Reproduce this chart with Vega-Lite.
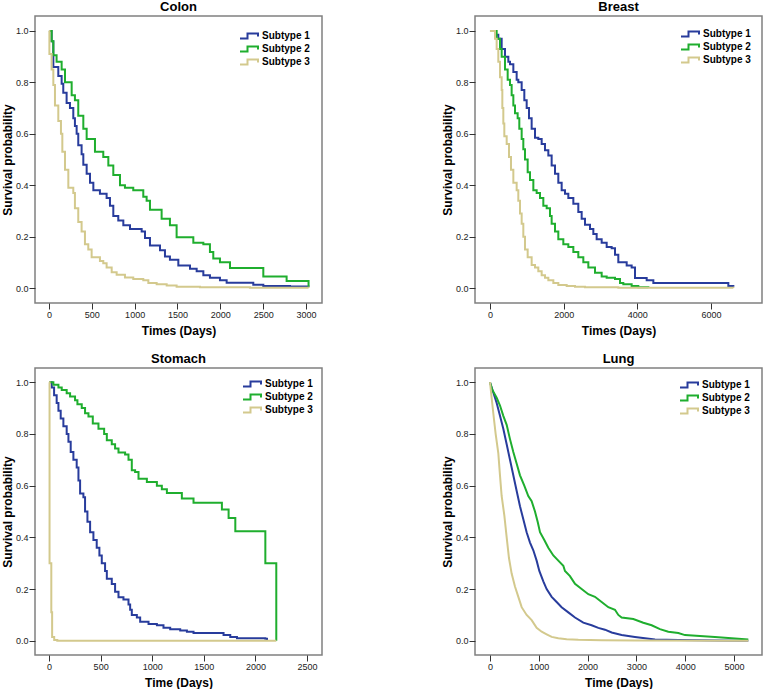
{
  "$schema": "https://vega.github.io/schema/vega-lite/v6.json",
  "background": "white",
  "padding": {"left": 0, "top": 0, "right": 0, "bottom": 0},
  "columns": 2,
  "spacing": {"row": 15, "column": 117},
  "resolve": {"legend": {"color": "independent"}},
  "datasets": {
    "colon": [
      {"subtype": "Subtype 1", "days": 0, "survival": 1}, {"subtype": "Subtype 1", "days": 31, "survival": 0.96}, {"subtype": "Subtype 1", "days": 51, "survival": 0.86}, {"subtype": "Subtype 1", "days": 109, "survival": 0.825}, {"subtype": "Subtype 1", "days": 148, "survival": 0.795}, {"subtype": "Subtype 1", "days": 167, "survival": 0.76}, {"subtype": "Subtype 1", "days": 206, "survival": 0.72}, {"subtype": "Subtype 1", "days": 245, "survival": 0.7}, {"subtype": "Subtype 1", "days": 284, "survival": 0.66}, {"subtype": "Subtype 1", "days": 303, "survival": 0.63}, {"subtype": "Subtype 1", "days": 323, "survival": 0.6}, {"subtype": "Subtype 1", "days": 342, "survival": 0.555}, {"subtype": "Subtype 1", "days": 381, "survival": 0.52}, {"subtype": "Subtype 1", "days": 401, "survival": 0.48}, {"subtype": "Subtype 1", "days": 440, "survival": 0.445}, {"subtype": "Subtype 1", "days": 479, "survival": 0.41}, {"subtype": "Subtype 1", "days": 518, "survival": 0.38}, {"subtype": "Subtype 1", "days": 595, "survival": 0.367}, {"subtype": "Subtype 1", "days": 673, "survival": 0.35}, {"subtype": "Subtype 1", "days": 712, "survival": 0.32}, {"subtype": "Subtype 1", "days": 751, "survival": 0.28}, {"subtype": "Subtype 1", "days": 809, "survival": 0.263}, {"subtype": "Subtype 1", "days": 868, "survival": 0.244}, {"subtype": "Subtype 1", "days": 946, "survival": 0.23}, {"subtype": "Subtype 1", "days": 1082, "survival": 0.22}, {"subtype": "Subtype 1", "days": 1121, "survival": 0.195}, {"subtype": "Subtype 1", "days": 1179, "survival": 0.166}, {"subtype": "Subtype 1", "days": 1296, "survival": 0.147}, {"subtype": "Subtype 1", "days": 1354, "survival": 0.123}, {"subtype": "Subtype 1", "days": 1412, "survival": 0.11}, {"subtype": "Subtype 1", "days": 1510, "survival": 0.088}, {"subtype": "Subtype 1", "days": 1646, "survival": 0.075}, {"subtype": "Subtype 1", "days": 1724, "survival": 0.065}, {"subtype": "Subtype 1", "days": 1802, "survival": 0.05}, {"subtype": "Subtype 1", "days": 1879, "survival": 0.04}, {"subtype": "Subtype 1", "days": 1996, "survival": 0.03}, {"subtype": "Subtype 1", "days": 2074, "survival": 0.021}, {"subtype": "Subtype 1", "days": 2385, "survival": 0.013}, {"subtype": "Subtype 1", "days": 2502, "survival": 0.008}, {"subtype": "Subtype 1", "days": 2813, "survival": 0.006}, {"subtype": "Subtype 1", "days": 3030, "survival": 0.005},
      {"subtype": "Subtype 2", "days": 0, "survival": 1}, {"subtype": "Subtype 2", "days": 31, "survival": 0.96}, {"subtype": "Subtype 2", "days": 51, "survival": 0.905}, {"subtype": "Subtype 2", "days": 89, "survival": 0.88}, {"subtype": "Subtype 2", "days": 148, "survival": 0.85}, {"subtype": "Subtype 2", "days": 187, "survival": 0.8}, {"subtype": "Subtype 2", "days": 265, "survival": 0.75}, {"subtype": "Subtype 2", "days": 303, "survival": 0.73}, {"subtype": "Subtype 2", "days": 342, "survival": 0.67}, {"subtype": "Subtype 2", "days": 401, "survival": 0.62}, {"subtype": "Subtype 2", "days": 440, "survival": 0.58}, {"subtype": "Subtype 2", "days": 537, "survival": 0.53}, {"subtype": "Subtype 2", "days": 634, "survival": 0.51}, {"subtype": "Subtype 2", "days": 693, "survival": 0.477}, {"subtype": "Subtype 2", "days": 751, "survival": 0.44}, {"subtype": "Subtype 2", "days": 829, "survival": 0.4}, {"subtype": "Subtype 2", "days": 887, "survival": 0.39}, {"subtype": "Subtype 2", "days": 984, "survival": 0.38}, {"subtype": "Subtype 2", "days": 1101, "survival": 0.355}, {"subtype": "Subtype 2", "days": 1140, "survival": 0.34}, {"subtype": "Subtype 2", "days": 1179, "survival": 0.305}, {"subtype": "Subtype 2", "days": 1315, "survival": 0.27}, {"subtype": "Subtype 2", "days": 1412, "survival": 0.244}, {"subtype": "Subtype 2", "days": 1490, "survival": 0.198}, {"subtype": "Subtype 2", "days": 1685, "survival": 0.176}, {"subtype": "Subtype 2", "days": 1802, "survival": 0.17}, {"subtype": "Subtype 2", "days": 1879, "survival": 0.14}, {"subtype": "Subtype 2", "days": 1918, "survival": 0.115}, {"subtype": "Subtype 2", "days": 1996, "survival": 0.1}, {"subtype": "Subtype 2", "days": 2113, "survival": 0.078}, {"subtype": "Subtype 2", "days": 2502, "survival": 0.045}, {"subtype": "Subtype 2", "days": 2774, "survival": 0.028}, {"subtype": "Subtype 2", "days": 3030, "survival": 0.005},
      {"subtype": "Subtype 3", "days": 0, "survival": 1}, {"subtype": "Subtype 3", "days": 5, "survival": 0.91}, {"subtype": "Subtype 3", "days": 31, "survival": 0.85}, {"subtype": "Subtype 3", "days": 51, "survival": 0.79}, {"subtype": "Subtype 3", "days": 70, "survival": 0.71}, {"subtype": "Subtype 3", "days": 109, "survival": 0.65}, {"subtype": "Subtype 3", "days": 140, "survival": 0.6}, {"subtype": "Subtype 3", "days": 156, "survival": 0.53}, {"subtype": "Subtype 3", "days": 187, "survival": 0.46}, {"subtype": "Subtype 3", "days": 226, "survival": 0.39}, {"subtype": "Subtype 3", "days": 284, "survival": 0.37}, {"subtype": "Subtype 3", "days": 303, "survival": 0.31}, {"subtype": "Subtype 3", "days": 342, "survival": 0.257}, {"subtype": "Subtype 3", "days": 381, "survival": 0.22}, {"subtype": "Subtype 3", "days": 420, "survival": 0.17}, {"subtype": "Subtype 3", "days": 459, "survival": 0.15}, {"subtype": "Subtype 3", "days": 498, "survival": 0.12}, {"subtype": "Subtype 3", "days": 595, "survival": 0.105}, {"subtype": "Subtype 3", "days": 634, "survival": 0.097}, {"subtype": "Subtype 3", "days": 673, "survival": 0.08}, {"subtype": "Subtype 3", "days": 732, "survival": 0.062}, {"subtype": "Subtype 3", "days": 790, "survival": 0.052}, {"subtype": "Subtype 3", "days": 887, "survival": 0.041}, {"subtype": "Subtype 3", "days": 984, "survival": 0.035}, {"subtype": "Subtype 3", "days": 1101, "survival": 0.03}, {"subtype": "Subtype 3", "days": 1160, "survival": 0.02}, {"subtype": "Subtype 3", "days": 1257, "survival": 0.015}, {"subtype": "Subtype 3", "days": 1374, "survival": 0.01}, {"subtype": "Subtype 3", "days": 1490, "survival": 0.005}, {"subtype": "Subtype 3", "days": 1763, "survival": 0.003}, {"subtype": "Subtype 3", "days": 2346, "survival": 0.001}, {"subtype": "Subtype 3", "days": 3030, "survival": 0}
    ],
    "breast": [
      {"subtype": "Subtype 1", "days": 0, "survival": 1}, {"subtype": "Subtype 1", "days": 150, "survival": 0.985}, {"subtype": "Subtype 1", "days": 226, "survival": 0.97}, {"subtype": "Subtype 1", "days": 317, "survival": 0.93}, {"subtype": "Subtype 1", "days": 407, "survival": 0.9}, {"subtype": "Subtype 1", "days": 498, "survival": 0.88}, {"subtype": "Subtype 1", "days": 543, "survival": 0.87}, {"subtype": "Subtype 1", "days": 634, "survival": 0.84}, {"subtype": "Subtype 1", "days": 724, "survival": 0.81}, {"subtype": "Subtype 1", "days": 769, "survival": 0.8}, {"subtype": "Subtype 1", "days": 860, "survival": 0.77}, {"subtype": "Subtype 1", "days": 932, "survival": 0.73}, {"subtype": "Subtype 1", "days": 996, "survival": 0.7}, {"subtype": "Subtype 1", "days": 1059, "survival": 0.66}, {"subtype": "Subtype 1", "days": 1131, "survival": 0.62}, {"subtype": "Subtype 1", "days": 1222, "survival": 0.585}, {"subtype": "Subtype 1", "days": 1312, "survival": 0.58}, {"subtype": "Subtype 1", "days": 1403, "survival": 0.56}, {"subtype": "Subtype 1", "days": 1493, "survival": 0.536}, {"subtype": "Subtype 1", "days": 1584, "survival": 0.516}, {"subtype": "Subtype 1", "days": 1674, "survival": 0.477}, {"subtype": "Subtype 1", "days": 1765, "survival": 0.445}, {"subtype": "Subtype 1", "days": 1855, "survival": 0.41}, {"subtype": "Subtype 1", "days": 1946, "survival": 0.38}, {"subtype": "Subtype 1", "days": 2036, "survival": 0.367}, {"subtype": "Subtype 1", "days": 2127, "survival": 0.35}, {"subtype": "Subtype 1", "days": 2263, "survival": 0.328}, {"subtype": "Subtype 1", "days": 2398, "survival": 0.296}, {"subtype": "Subtype 1", "days": 2489, "survival": 0.27}, {"subtype": "Subtype 1", "days": 2579, "survival": 0.246}, {"subtype": "Subtype 1", "days": 2715, "survival": 0.23}, {"subtype": "Subtype 1", "days": 2806, "survival": 0.21}, {"subtype": "Subtype 1", "days": 2896, "survival": 0.19}, {"subtype": "Subtype 1", "days": 3032, "survival": 0.176}, {"subtype": "Subtype 1", "days": 3168, "survival": 0.16}, {"subtype": "Subtype 1", "days": 3303, "survival": 0.155}, {"subtype": "Subtype 1", "days": 3394, "survival": 0.13}, {"subtype": "Subtype 1", "days": 3484, "survival": 0.1}, {"subtype": "Subtype 1", "days": 3711, "survival": 0.088}, {"subtype": "Subtype 1", "days": 3846, "survival": 0.08}, {"subtype": "Subtype 1", "days": 3937, "survival": 0.039}, {"subtype": "Subtype 1", "days": 4254, "survival": 0.03}, {"subtype": "Subtype 1", "days": 4435, "survival": 0.02}, {"subtype": "Subtype 1", "days": 6471, "survival": 0.008}, {"subtype": "Subtype 1", "days": 6607, "survival": 0.005},
      {"subtype": "Subtype 2", "days": 0, "survival": 1}, {"subtype": "Subtype 2", "days": 181, "survival": 0.97}, {"subtype": "Subtype 2", "days": 272, "survival": 0.93}, {"subtype": "Subtype 2", "days": 317, "survival": 0.9}, {"subtype": "Subtype 2", "days": 407, "survival": 0.85}, {"subtype": "Subtype 2", "days": 480, "survival": 0.81}, {"subtype": "Subtype 2", "days": 543, "survival": 0.79}, {"subtype": "Subtype 2", "days": 588, "survival": 0.75}, {"subtype": "Subtype 2", "days": 634, "survival": 0.71}, {"subtype": "Subtype 2", "days": 679, "survival": 0.68}, {"subtype": "Subtype 2", "days": 751, "survival": 0.66}, {"subtype": "Subtype 2", "days": 796, "survival": 0.62}, {"subtype": "Subtype 2", "days": 860, "survival": 0.58}, {"subtype": "Subtype 2", "days": 905, "survival": 0.54}, {"subtype": "Subtype 2", "days": 950, "survival": 0.5}, {"subtype": "Subtype 2", "days": 1023, "survival": 0.45}, {"subtype": "Subtype 2", "days": 1086, "survival": 0.42}, {"subtype": "Subtype 2", "days": 1177, "survival": 0.38}, {"subtype": "Subtype 2", "days": 1267, "survival": 0.37}, {"subtype": "Subtype 2", "days": 1358, "survival": 0.35}, {"subtype": "Subtype 2", "days": 1448, "survival": 0.32}, {"subtype": "Subtype 2", "days": 1539, "survival": 0.31}, {"subtype": "Subtype 2", "days": 1629, "survival": 0.28}, {"subtype": "Subtype 2", "days": 1674, "survival": 0.25}, {"subtype": "Subtype 2", "days": 1765, "survival": 0.22}, {"subtype": "Subtype 2", "days": 1855, "survival": 0.19}, {"subtype": "Subtype 2", "days": 1991, "survival": 0.17}, {"subtype": "Subtype 2", "days": 2127, "survival": 0.16}, {"subtype": "Subtype 2", "days": 2263, "survival": 0.14}, {"subtype": "Subtype 2", "days": 2398, "survival": 0.12}, {"subtype": "Subtype 2", "days": 2534, "survival": 0.1}, {"subtype": "Subtype 2", "days": 2670, "survival": 0.08}, {"subtype": "Subtype 2", "days": 2851, "survival": 0.06}, {"subtype": "Subtype 2", "days": 3032, "survival": 0.045}, {"subtype": "Subtype 2", "days": 3168, "survival": 0.04}, {"subtype": "Subtype 2", "days": 3394, "survival": 0.035}, {"subtype": "Subtype 2", "days": 3530, "survival": 0.02}, {"subtype": "Subtype 2", "days": 3620, "survival": 0.015}, {"subtype": "Subtype 2", "days": 3846, "survival": 0.008}, {"subtype": "Subtype 2", "days": 4027, "survival": 0.003}, {"subtype": "Subtype 2", "days": 4300, "survival": 0.002},
      {"subtype": "Subtype 3", "days": 0, "survival": 1}, {"subtype": "Subtype 3", "days": 136, "survival": 0.97}, {"subtype": "Subtype 3", "days": 181, "survival": 0.93}, {"subtype": "Subtype 3", "days": 226, "survival": 0.88}, {"subtype": "Subtype 3", "days": 272, "survival": 0.82}, {"subtype": "Subtype 3", "days": 317, "survival": 0.77}, {"subtype": "Subtype 3", "days": 335, "survival": 0.7}, {"subtype": "Subtype 3", "days": 362, "survival": 0.64}, {"subtype": "Subtype 3", "days": 389, "survival": 0.59}, {"subtype": "Subtype 3", "days": 453, "survival": 0.56}, {"subtype": "Subtype 3", "days": 516, "survival": 0.51}, {"subtype": "Subtype 3", "days": 570, "survival": 0.46}, {"subtype": "Subtype 3", "days": 634, "survival": 0.41}, {"subtype": "Subtype 3", "days": 724, "survival": 0.38}, {"subtype": "Subtype 3", "days": 769, "survival": 0.34}, {"subtype": "Subtype 3", "days": 815, "survival": 0.29}, {"subtype": "Subtype 3", "days": 860, "survival": 0.25}, {"subtype": "Subtype 3", "days": 905, "survival": 0.2}, {"subtype": "Subtype 3", "days": 950, "survival": 0.15}, {"subtype": "Subtype 3", "days": 1023, "survival": 0.12}, {"subtype": "Subtype 3", "days": 1131, "survival": 0.09}, {"subtype": "Subtype 3", "days": 1222, "survival": 0.08}, {"subtype": "Subtype 3", "days": 1312, "survival": 0.065}, {"subtype": "Subtype 3", "days": 1403, "survival": 0.05}, {"subtype": "Subtype 3", "days": 1493, "survival": 0.04}, {"subtype": "Subtype 3", "days": 1584, "survival": 0.03}, {"subtype": "Subtype 3", "days": 1720, "survival": 0.02}, {"subtype": "Subtype 3", "days": 1855, "survival": 0.012}, {"subtype": "Subtype 3", "days": 2082, "survival": 0.008}, {"subtype": "Subtype 3", "days": 2308, "survival": 0.005}, {"subtype": "Subtype 3", "days": 2579, "survival": 0.003}, {"subtype": "Subtype 3", "days": 3484, "survival": 0.001}, {"subtype": "Subtype 3", "days": 6607, "survival": 0}
    ],
    "stomach": [
      {"subtype": "Subtype 1", "days": 0, "survival": 1}, {"subtype": "Subtype 1", "days": 26, "survival": 0.98}, {"subtype": "Subtype 1", "days": 49, "survival": 0.95}, {"subtype": "Subtype 1", "days": 74, "survival": 0.92}, {"subtype": "Subtype 1", "days": 91, "survival": 0.89}, {"subtype": "Subtype 1", "days": 113, "survival": 0.86}, {"subtype": "Subtype 1", "days": 139, "survival": 0.83}, {"subtype": "Subtype 1", "days": 171, "survival": 0.8}, {"subtype": "Subtype 1", "days": 188, "survival": 0.77}, {"subtype": "Subtype 1", "days": 210, "survival": 0.73}, {"subtype": "Subtype 1", "days": 236, "survival": 0.7}, {"subtype": "Subtype 1", "days": 268, "survival": 0.67}, {"subtype": "Subtype 1", "days": 285, "survival": 0.62}, {"subtype": "Subtype 1", "days": 301, "survival": 0.57}, {"subtype": "Subtype 1", "days": 333, "survival": 0.555}, {"subtype": "Subtype 1", "days": 349, "survival": 0.5}, {"subtype": "Subtype 1", "days": 372, "survival": 0.46}, {"subtype": "Subtype 1", "days": 398, "survival": 0.42}, {"subtype": "Subtype 1", "days": 430, "survival": 0.39}, {"subtype": "Subtype 1", "days": 462, "survival": 0.36}, {"subtype": "Subtype 1", "days": 488, "survival": 0.33}, {"subtype": "Subtype 1", "days": 511, "survival": 0.3}, {"subtype": "Subtype 1", "days": 543, "survival": 0.27}, {"subtype": "Subtype 1", "days": 560, "survival": 0.24}, {"subtype": "Subtype 1", "days": 608, "survival": 0.22}, {"subtype": "Subtype 1", "days": 640, "survival": 0.19}, {"subtype": "Subtype 1", "days": 673, "survival": 0.168}, {"subtype": "Subtype 1", "days": 721, "survival": 0.16}, {"subtype": "Subtype 1", "days": 770, "survival": 0.14}, {"subtype": "Subtype 1", "days": 786, "survival": 0.12}, {"subtype": "Subtype 1", "days": 802, "survival": 0.1}, {"subtype": "Subtype 1", "days": 851, "survival": 0.09}, {"subtype": "Subtype 1", "days": 883, "survival": 0.074}, {"subtype": "Subtype 1", "days": 964, "survival": 0.065}, {"subtype": "Subtype 1", "days": 1045, "survival": 0.06}, {"subtype": "Subtype 1", "days": 1109, "survival": 0.05}, {"subtype": "Subtype 1", "days": 1174, "survival": 0.045}, {"subtype": "Subtype 1", "days": 1271, "survival": 0.04}, {"subtype": "Subtype 1", "days": 1336, "survival": 0.035}, {"subtype": "Subtype 1", "days": 1400, "survival": 0.03}, {"subtype": "Subtype 1", "days": 1691, "survival": 0.022}, {"subtype": "Subtype 1", "days": 1756, "survival": 0.015}, {"subtype": "Subtype 1", "days": 1821, "survival": 0.01}, {"subtype": "Subtype 1", "days": 2096, "survival": 0.008}, {"subtype": "Subtype 1", "days": 2112, "survival": 0},
      {"subtype": "Subtype 2", "days": 0, "survival": 1}, {"subtype": "Subtype 2", "days": 42, "survival": 0.99}, {"subtype": "Subtype 2", "days": 91, "survival": 0.98}, {"subtype": "Subtype 2", "days": 123, "survival": 0.97}, {"subtype": "Subtype 2", "days": 171, "survival": 0.957}, {"subtype": "Subtype 2", "days": 204, "survival": 0.945}, {"subtype": "Subtype 2", "days": 252, "survival": 0.93}, {"subtype": "Subtype 2", "days": 275, "survival": 0.915}, {"subtype": "Subtype 2", "days": 317, "survival": 0.9}, {"subtype": "Subtype 2", "days": 349, "survival": 0.88}, {"subtype": "Subtype 2", "days": 382, "survival": 0.867}, {"subtype": "Subtype 2", "days": 424, "survival": 0.84}, {"subtype": "Subtype 2", "days": 479, "survival": 0.82}, {"subtype": "Subtype 2", "days": 534, "survival": 0.8}, {"subtype": "Subtype 2", "days": 560, "survival": 0.776}, {"subtype": "Subtype 2", "days": 608, "survival": 0.76}, {"subtype": "Subtype 2", "days": 640, "survival": 0.744}, {"subtype": "Subtype 2", "days": 673, "survival": 0.728}, {"subtype": "Subtype 2", "days": 737, "survival": 0.72}, {"subtype": "Subtype 2", "days": 770, "survival": 0.7}, {"subtype": "Subtype 2", "days": 802, "survival": 0.66}, {"subtype": "Subtype 2", "days": 834, "survival": 0.653}, {"subtype": "Subtype 2", "days": 867, "survival": 0.627}, {"subtype": "Subtype 2", "days": 948, "survival": 0.614}, {"subtype": "Subtype 2", "days": 1045, "survival": 0.6}, {"subtype": "Subtype 2", "days": 1093, "survival": 0.586}, {"subtype": "Subtype 2", "days": 1142, "survival": 0.572}, {"subtype": "Subtype 2", "days": 1287, "survival": 0.55}, {"subtype": "Subtype 2", "days": 1400, "survival": 0.534}, {"subtype": "Subtype 2", "days": 1675, "survival": 0.508}, {"subtype": "Subtype 2", "days": 1740, "survival": 0.475}, {"subtype": "Subtype 2", "days": 1805, "survival": 0.424}, {"subtype": "Subtype 2", "days": 2096, "survival": 0.3}, {"subtype": "Subtype 2", "days": 2202, "survival": 0},
      {"subtype": "Subtype 3", "days": 0, "survival": 1}, {"subtype": "Subtype 3", "days": 5, "survival": 0.3}, {"subtype": "Subtype 3", "days": 22, "survival": 0.11}, {"subtype": "Subtype 3", "days": 30, "survival": 0.015}, {"subtype": "Subtype 3", "days": 50, "survival": 0.003}, {"subtype": "Subtype 3", "days": 80, "survival": 0}, {"subtype": "Subtype 3", "days": 2202, "survival": 0}
    ],
    "lung": [
      {"subtype": "Subtype 1", "days": 0, "survival": 1}, {"subtype": "Subtype 1", "days": 68, "survival": 0.96}, {"subtype": "Subtype 1", "days": 137, "survival": 0.92}, {"subtype": "Subtype 1", "days": 205, "survival": 0.87}, {"subtype": "Subtype 1", "days": 273, "survival": 0.82}, {"subtype": "Subtype 1", "days": 342, "survival": 0.76}, {"subtype": "Subtype 1", "days": 410, "survival": 0.7}, {"subtype": "Subtype 1", "days": 478, "survival": 0.64}, {"subtype": "Subtype 1", "days": 546, "survival": 0.58}, {"subtype": "Subtype 1", "days": 615, "survival": 0.52}, {"subtype": "Subtype 1", "days": 683, "survival": 0.47}, {"subtype": "Subtype 1", "days": 751, "survival": 0.42}, {"subtype": "Subtype 1", "days": 820, "survival": 0.38}, {"subtype": "Subtype 1", "days": 888, "survival": 0.35}, {"subtype": "Subtype 1", "days": 956, "survival": 0.31}, {"subtype": "Subtype 1", "days": 1011, "survival": 0.27}, {"subtype": "Subtype 1", "days": 1093, "survival": 0.23}, {"subtype": "Subtype 1", "days": 1161, "survival": 0.2}, {"subtype": "Subtype 1", "days": 1264, "survival": 0.17}, {"subtype": "Subtype 1", "days": 1366, "survival": 0.15}, {"subtype": "Subtype 1", "days": 1468, "survival": 0.13}, {"subtype": "Subtype 1", "days": 1605, "survival": 0.11}, {"subtype": "Subtype 1", "days": 1742, "survival": 0.09}, {"subtype": "Subtype 1", "days": 1912, "survival": 0.07}, {"subtype": "Subtype 1", "days": 2083, "survival": 0.06}, {"subtype": "Subtype 1", "days": 2220, "survival": 0.05}, {"subtype": "Subtype 1", "days": 2356, "survival": 0.043}, {"subtype": "Subtype 1", "days": 2493, "survival": 0.032}, {"subtype": "Subtype 1", "days": 2698, "survival": 0.022}, {"subtype": "Subtype 1", "days": 2971, "survival": 0.015}, {"subtype": "Subtype 1", "days": 3176, "survival": 0.01}, {"subtype": "Subtype 1", "days": 3381, "survival": 0.005}, {"subtype": "Subtype 1", "days": 3859, "survival": 0.003}, {"subtype": "Subtype 1", "days": 4679, "survival": 0.001}, {"subtype": "Subtype 1", "days": 5293, "survival": 0},
      {"subtype": "Subtype 2", "days": 0, "survival": 1}, {"subtype": "Subtype 2", "days": 48, "survival": 0.97}, {"subtype": "Subtype 2", "days": 137, "survival": 0.94}, {"subtype": "Subtype 2", "days": 205, "survival": 0.91}, {"subtype": "Subtype 2", "days": 273, "survival": 0.87}, {"subtype": "Subtype 2", "days": 342, "survival": 0.835}, {"subtype": "Subtype 2", "days": 410, "survival": 0.78}, {"subtype": "Subtype 2", "days": 478, "survival": 0.73}, {"subtype": "Subtype 2", "days": 546, "survival": 0.686}, {"subtype": "Subtype 2", "days": 615, "survival": 0.64}, {"subtype": "Subtype 2", "days": 703, "survival": 0.6}, {"subtype": "Subtype 2", "days": 785, "survival": 0.56}, {"subtype": "Subtype 2", "days": 854, "survival": 0.54}, {"subtype": "Subtype 2", "days": 922, "survival": 0.5}, {"subtype": "Subtype 2", "days": 977, "survival": 0.46}, {"subtype": "Subtype 2", "days": 1025, "survival": 0.42}, {"subtype": "Subtype 2", "days": 1113, "survival": 0.39}, {"subtype": "Subtype 2", "days": 1195, "survival": 0.36}, {"subtype": "Subtype 2", "days": 1298, "survival": 0.33}, {"subtype": "Subtype 2", "days": 1400, "survival": 0.31}, {"subtype": "Subtype 2", "days": 1503, "survival": 0.29}, {"subtype": "Subtype 2", "days": 1537, "survival": 0.27}, {"subtype": "Subtype 2", "days": 1639, "survival": 0.25}, {"subtype": "Subtype 2", "days": 1742, "survival": 0.22}, {"subtype": "Subtype 2", "days": 1878, "survival": 0.2}, {"subtype": "Subtype 2", "days": 2015, "survival": 0.18}, {"subtype": "Subtype 2", "days": 2151, "survival": 0.17}, {"subtype": "Subtype 2", "days": 2288, "survival": 0.15}, {"subtype": "Subtype 2", "days": 2425, "survival": 0.13}, {"subtype": "Subtype 2", "days": 2561, "survival": 0.12}, {"subtype": "Subtype 2", "days": 2630, "survival": 0.1}, {"subtype": "Subtype 2", "days": 2698, "survival": 0.09}, {"subtype": "Subtype 2", "days": 2937, "survival": 0.084}, {"subtype": "Subtype 2", "days": 3142, "survival": 0.07}, {"subtype": "Subtype 2", "days": 3313, "survival": 0.06}, {"subtype": "Subtype 2", "days": 3483, "survival": 0.045}, {"subtype": "Subtype 2", "days": 3654, "survival": 0.035}, {"subtype": "Subtype 2", "days": 3859, "survival": 0.03}, {"subtype": "Subtype 2", "days": 3996, "survival": 0.022}, {"subtype": "Subtype 2", "days": 4610, "survival": 0.015}, {"subtype": "Subtype 2", "days": 4952, "survival": 0.01}, {"subtype": "Subtype 2", "days": 5293, "survival": 0.005},
      {"subtype": "Subtype 3", "days": 0, "survival": 1}, {"subtype": "Subtype 3", "days": 34, "survival": 0.94}, {"subtype": "Subtype 3", "days": 68, "survival": 0.88}, {"subtype": "Subtype 3", "days": 116, "survival": 0.8}, {"subtype": "Subtype 3", "days": 171, "survival": 0.725}, {"subtype": "Subtype 3", "days": 205, "survival": 0.64}, {"subtype": "Subtype 3", "days": 239, "survival": 0.56}, {"subtype": "Subtype 3", "days": 294, "survival": 0.485}, {"subtype": "Subtype 3", "days": 342, "survival": 0.4}, {"subtype": "Subtype 3", "days": 389, "survival": 0.32}, {"subtype": "Subtype 3", "days": 444, "survival": 0.26}, {"subtype": "Subtype 3", "days": 512, "survival": 0.21}, {"subtype": "Subtype 3", "days": 581, "survival": 0.17}, {"subtype": "Subtype 3", "days": 649, "survival": 0.13}, {"subtype": "Subtype 3", "days": 751, "survival": 0.1}, {"subtype": "Subtype 3", "days": 854, "survival": 0.08}, {"subtype": "Subtype 3", "days": 956, "survival": 0.05}, {"subtype": "Subtype 3", "days": 1059, "survival": 0.035}, {"subtype": "Subtype 3", "days": 1161, "survival": 0.025}, {"subtype": "Subtype 3", "days": 1264, "survival": 0.015}, {"subtype": "Subtype 3", "days": 1400, "survival": 0.01}, {"subtype": "Subtype 3", "days": 1571, "survival": 0.006}, {"subtype": "Subtype 3", "days": 1810, "survival": 0.004}, {"subtype": "Subtype 3", "days": 2288, "survival": 0.002}, {"subtype": "Subtype 3", "days": 2971, "survival": 0.001}, {"subtype": "Subtype 3", "days": 5293, "survival": 0}
    ]
  },
  "concat": [
    {
      "title": "Colon",
      "width": 287,
      "height": 287,
      "data": {"name": "colon"},
      "mark": {"type": "line", "interpolate": "step-after", "strokeWidth": 2},
      "encoding": {
        "x": {"field": "days", "type": "quantitative", "title": "Times (Days)",
              "scale": {"domain": [-163, 3187], "nice": false, "zero": false},
              "axis": {"values": [0, 500, 1000, 1500, 2000, 2500, 3000], "format": "d"}},
        "y": {"field": "survival", "type": "quantitative", "title": "Survival probability",
              "scale": {"domain": [-0.058, 1.058], "nice": false, "zero": false},
              "axis": {"values": [0, 0.2, 0.4, 0.6, 0.8, 1], "format": ".1f"}},
        "color": {"field": "subtype", "type": "nominal",
                  "scale": {"domain": ["Subtype 1", "Subtype 2", "Subtype 3"], "range": ["#283c9c", "#1fae2e", "#d3c98d"]},
                  "legend": {"title": null, "orient": "none", "legendX": 212, "legendY": 14}}
      }
    },
    {
      "title": "Breast",
      "width": 287,
      "height": 287,
      "data": {"name": "breast"},
      "mark": {"type": "line", "interpolate": "step-after", "strokeWidth": 2},
      "encoding": {
        "x": {"field": "days", "type": "quantitative", "title": "Times (Days)",
              "scale": {"domain": [-407, 7385], "nice": false, "zero": false},
              "axis": {"values": [0, 2000, 4000, 6000], "format": "d"}},
        "y": {"field": "survival", "type": "quantitative", "title": "Survival probability",
              "scale": {"domain": [-0.058, 1.058], "nice": false, "zero": false},
              "axis": {"values": [0, 0.2, 0.4, 0.6, 0.8, 1], "format": ".1f"}},
        "color": {"field": "subtype", "type": "nominal",
                  "scale": {"domain": ["Subtype 1", "Subtype 2", "Subtype 3"], "range": ["#283c9c", "#1fae2e", "#d3c98d"]},
                  "legend": {"title": null, "orient": "none", "legendX": 213, "legendY": 12}}
      }
    },
    {
      "title": "Stomach",
      "width": 287,
      "height": 287,
      "data": {"name": "stomach"},
      "mark": {"type": "line", "interpolate": "step-after", "strokeWidth": 2},
      "encoding": {
        "x": {"field": "days", "type": "quantitative", "title": "Time (Days)",
              "scale": {"domain": [-136, 2645], "nice": false, "zero": false},
              "axis": {"values": [0, 500, 1000, 1500, 2000, 2500], "format": "d"}},
        "y": {"field": "survival", "type": "quantitative", "title": "Survival probability",
              "scale": {"domain": [-0.055, 1.055], "nice": false, "zero": false},
              "axis": {"values": [0, 0.2, 0.4, 0.6, 0.8, 1], "format": ".1f"}},
        "color": {"field": "subtype", "type": "nominal",
                  "scale": {"domain": ["Subtype 1", "Subtype 2", "Subtype 3"], "range": ["#283c9c", "#1fae2e", "#d3c98d"]},
                  "legend": {"title": null, "orient": "none", "legendX": 215, "legendY": 10}}
      }
    },
    {
      "title": "Lung",
      "width": 287,
      "height": 287,
      "data": {"name": "lung"},
      "mark": {"type": "line", "interpolate": "linear", "strokeWidth": 2},
      "encoding": {
        "x": {"field": "days", "type": "quantitative", "title": "Time (Days)",
              "scale": {"domain": [-307, 5574], "nice": false, "zero": false},
              "axis": {"values": [0, 1000, 2000, 3000, 4000, 5000], "format": "d"}},
        "y": {"field": "survival", "type": "quantitative", "title": "Survival probability",
              "scale": {"domain": [-0.055, 1.055], "nice": false, "zero": false},
              "axis": {"values": [0, 0.2, 0.4, 0.6, 0.8, 1], "format": ".1f"}},
        "color": {"field": "subtype", "type": "nominal",
                  "scale": {"domain": ["Subtype 1", "Subtype 2", "Subtype 3"], "range": ["#283c9c", "#1fae2e", "#d3c98d"]},
                  "legend": {"title": null, "orient": "none", "legendX": 212, "legendY": 11}}
      }
    }
  ],
  "config": {
    "font": "Liberation Sans",
    "view": {"stroke": "#808080", "strokeWidth": 1.5},
    "title": {"fontSize": 13, "fontWeight": "bold", "color": "#000000", "offset": 2},
    "axis": {
      "domain": false,
      "grid": false,
      "ticks": true,
      "tickSize": 6,
      "tickColor": "#333333",
      "tickWidth": 1,
      "labelFontSize": 9,
      "labelColor": "#222222",
      "labelPadding": 1,
      "titleFontSize": 12,
      "titleFontWeight": "bold",
      "titleColor": "#000000"
    },
    "axisY": {"titlePadding": 1},
    "axisX": {"titlePadding": 6},
    "legend": {
      "labelFontSize": 10,
      "labelFontWeight": "bold",
      "labelColor": "#000000",
      "labelOffset": 3,
      "rowPadding": -1,
      "symbolType": "M-2.6,0.5L-1.1,0.5L-1.1,-0.5L1,-0.5L1,0.1",
      "symbolSize": 100,
      "symbolStrokeWidth": 2,
      "symbolFillColor": "transparent"
    }
  }
}
